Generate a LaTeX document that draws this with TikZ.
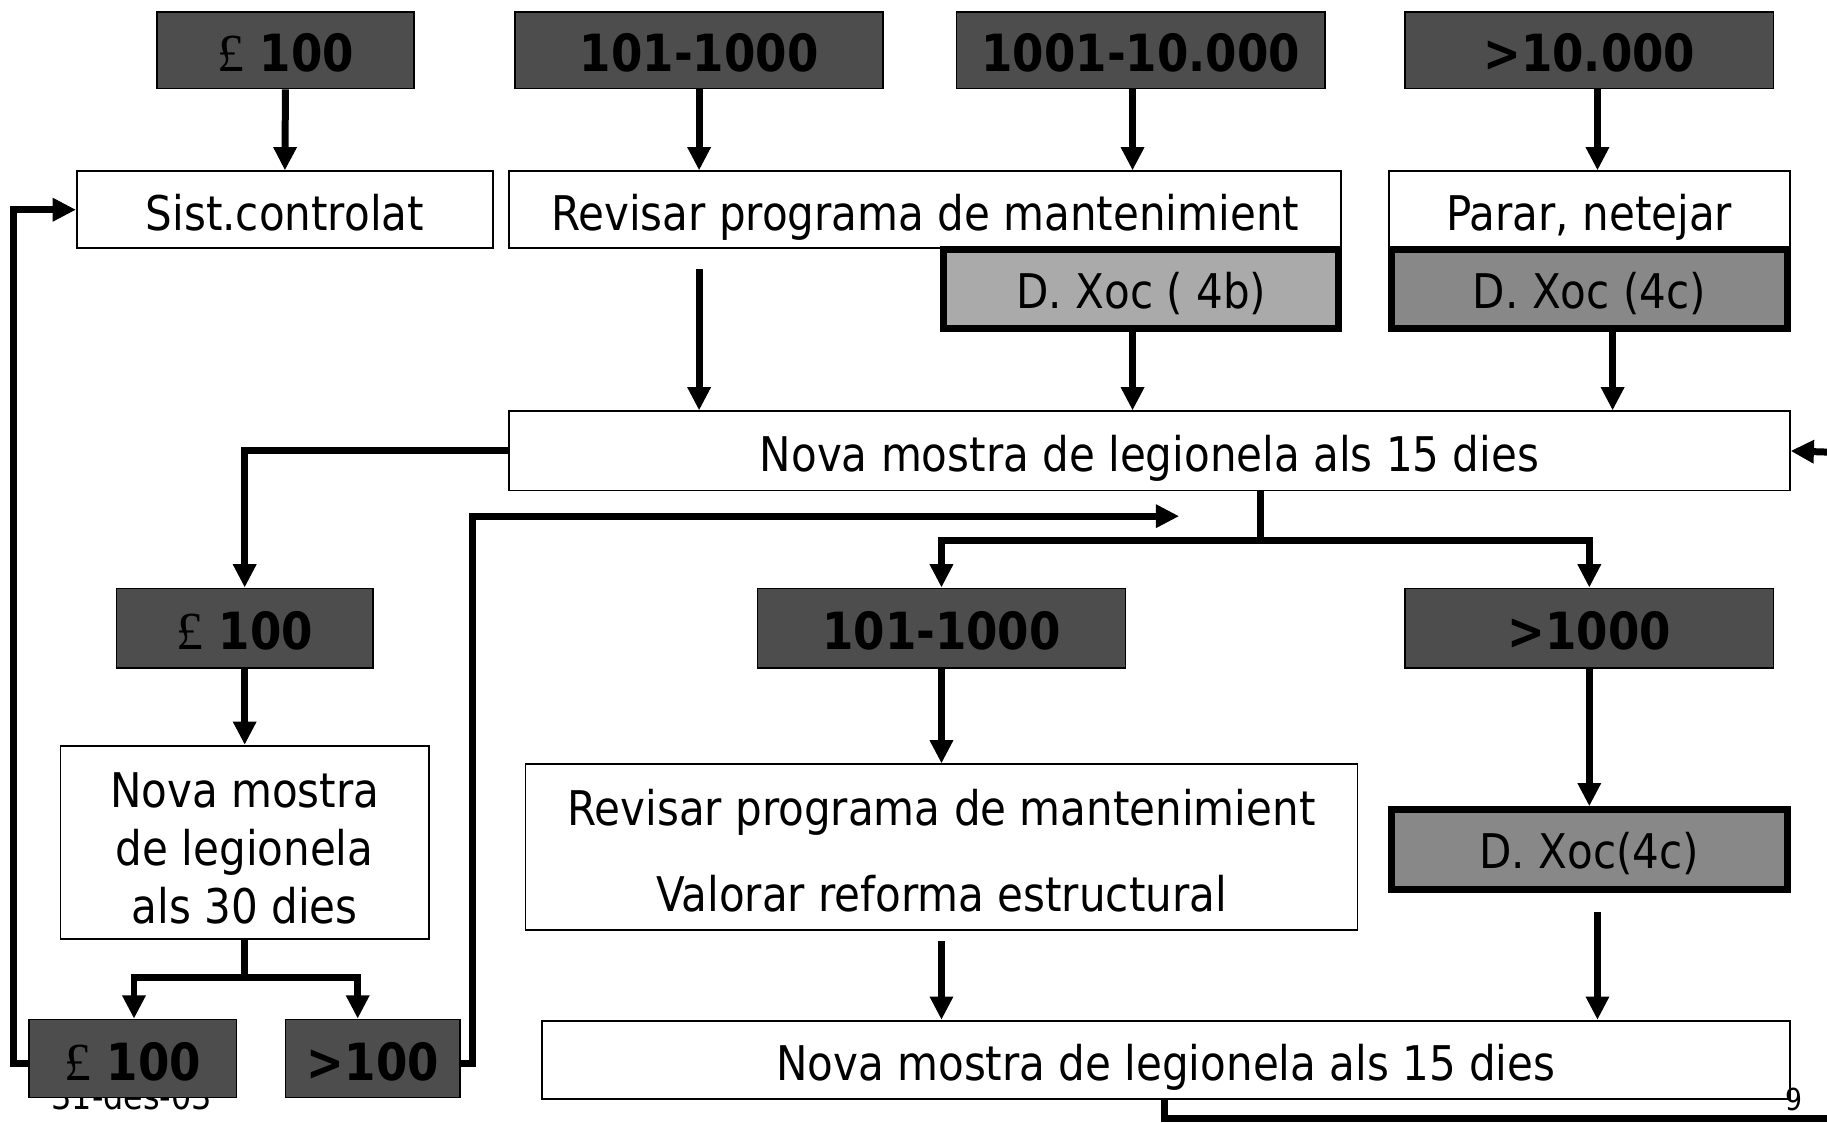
\documentclass[tikz,border=0pt]{standalone}
\usepackage{fontspec}
\setmainfont[FakeStretch=0.88]{DejaVu Sans}
\newfontfamily\poundfont{Liberation Serif}
\usetikzlibrary{arrows.meta,calc}
\definecolor{darkbox}{HTML}{4D4D4D}
\definecolor{xocA}{HTML}{AAAAAA}
\definecolor{xocB}{HTML}{888888}
\newcommand{\lbp}{{\poundfont\mdseries\fontsize{46}{50}\selectfont £}}
\begin{document}
\begin{tikzpicture}[x=1pt,y=-1pt,
  base/.style={draw=black, line width=1.5pt, inner sep=0pt, align=center},
  dark/.style={base, fill=darkbox, font=\fontsize{44}{50}\selectfont\bfseries, text height=37pt, text depth=0pt},
  whitebox/.style={base, fill=white, font=\fontsize{41}{50}\selectfont},
  oneline/.style={text height=36pt, text depth=0pt},
  xoc/.style={draw=black, line width=6pt, inner sep=0pt, font=\fontsize{41}{50}\selectfont, text height=33pt, text depth=0pt},
  conn/.style={line width=6pt, -{Triangle[length=20pt,width=19pt]}},
  plain/.style={line width=6pt},
  note/.style={inner sep=0pt, anchor=base}
]
\clip (0,0) rectangle (1568,963);
\fill[white] (0,0) rectangle (1568,963);

% top row
\node[dark, minimum width=220pt, minimum height=66pt] (t1) at (245,43) {\lbp\ 100};
\node[dark, minimum width=316pt, minimum height=66pt] (t2) at (600,43) {101-1000};
\node[dark, minimum width=316pt, minimum height=66pt] (t3) at (979,43) {1001-10.000};
\node[dark, minimum width=316pt, minimum height=66pt] (t4) at (1364,43) {>10.000};

% second row
\node[whitebox, oneline, minimum width=357pt, minimum height=66pt] (sist) at (244.5,180) {Sist.controlat};
\node[whitebox, oneline, minimum width=714pt, minimum height=66pt] (rev) at (794,180) {Revisar programa de mantenimient};
\node[whitebox, oneline, minimum width=344pt, minimum height=66pt] (parar) at (1364,180) {Parar, netejar};
\node[xoc, fill=xocA, minimum width=339pt, minimum height=68pt] (xoc1) at (979.5,248) {D. Xoc ( 4b)};
\node[xoc, fill=xocB, minimum width=340pt, minimum height=68pt] (xoc2) at (1364,248) {D. Xoc (4c)};

\node[whitebox, oneline, minimum width=1099pt, minimum height=68pt] (nova1) at (986.5,387) {Nova mostra de legionela als 15 dies};

% middle row
\node[dark, minimum width=220pt, minimum height=68pt] (m1) at (210,539) {\lbp\ 100};
\node[dark, minimum width=316pt, minimum height=68pt] (m2) at (808,539) {101-1000};
\node[dark, minimum width=316pt, minimum height=68pt] (m3) at (1364,539) {>1000};

\node[whitebox, minimum width=316pt, minimum height=166pt] (nova30) at (210,723) {\rule{0pt}{40pt}Nova mostra\\de legionela\\als 30 dies};
\node[whitebox, minimum width=714pt, minimum height=142pt, font=\fontsize{41}{74}\selectfont] (rev2) at (808,727) {\rule{0pt}{37pt}Revisar programa de mantenimient\\Valorar reforma estructural};
\node[xoc, fill=xocB, minimum width=340pt, minimum height=68pt] (xoc3) at (1364,729) {D. Xoc(4c)};

% footer text (partly hidden)
\node[note, font=\fontsize{31}{36}\selectfont] (date) at (113,952.5) {31-des-03};

% bottom row
\node[dark, minimum width=178pt, minimum height=67pt] (b1) at (114,908.5) {\lbp\ 100};
\node[dark, minimum width=150pt, minimum height=67pt] (b2) at (320,908.5) {>100};
\node[whitebox, oneline, minimum width=1071pt, minimum height=67pt] (nova2) at (1000.5,909.5) {Nova mostra de legionela als 15 dies};
\node[note, font=\fontsize{26}{30}\selectfont] (pg) at (1540,953) {9};

% free ends
\coordinate (rin) at (1568,388);
\coordinate (rtip) at (1012,443);
\coordinate (bout) at (1568,960);

% connectors
\draw[conn] (t1.south) -- (sist.north);
\draw[conn] (t2.south) -- (t2.south |- rev.north);
\draw[conn] ([xshift=-7pt]t3.south) -- ([xshift=-7pt]t3.south |- rev.north);
\draw[conn] ([xshift=7pt]t4.south) -- ([xshift=7pt]t4.south |- parar.north);
\draw[conn] ([yshift=-17pt]rev.south -| t2.south) -- (t2.south |- nova1.north);
\draw[conn] ([xshift=-7.5pt]xoc1.south) -- ([xshift=-7.5pt]xoc1.south |- nova1.north);
\draw[conn] ([xshift=20pt]xoc2.south) -- ([xshift=20pt]xoc2.south |- nova1.north);
\draw[conn] (rin) -- (nova1.east);

\draw[conn] (nova1.west) -| (m1.north);
\draw[plain] ([xshift=95.5pt]nova1.south) -- ++(0,42) coordinate (split);
\draw[conn] (split) -| (m2.north);
\draw[conn] (split) -| (m3.north);

\draw[conn] (m1.south) -- (nova30.north);
\draw[plain] (nova30.south) -- ++(0,32) coordinate (split2);
\draw[conn] (split2) -| ([xshift=1pt]b1.north);
\draw[conn] (split2) -| ([xshift=-13pt]b2.north);

\draw[conn] ([yshift=-4pt]b1.west) -- ++(-12.5,0) |- (sist.west);
\draw[conn] ([yshift=-4pt]b2.east) -- ++(10,0) |- (rtip);

\draw[conn] (m2.south) -- (rev2.north);
\draw[conn] (m3.south) -- (xoc3.north);
\draw[conn] ([yshift=-9pt]rev2.south) -- (rev2.south |- nova2.north);
\draw[conn] ([yshift=-17pt,xshift=7pt]xoc3.south) -- ([xshift=7pt]xoc3.south |- nova2.north);
\draw[plain] ([xshift=-1.5pt]nova2.south) |- (bout);
\end{tikzpicture}
\end{document}
